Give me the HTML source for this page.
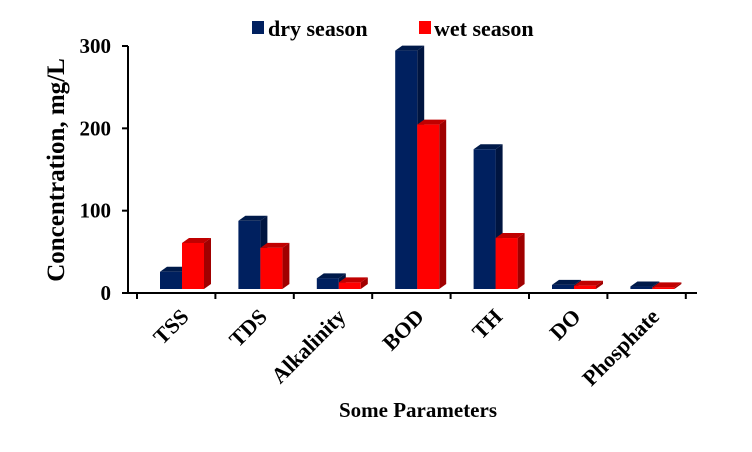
<!DOCTYPE html>
<html><head><meta charset="utf-8"><style>
body{margin:0;background:#fff}
svg{display:block;font-family:"Liberation Serif",serif;font-weight:bold}
</style></head><body>
<svg id="c" width="752" height="452">
<g>
<rect x="252" y="21" width="12" height="13" fill="#00205f"/>
<text x="268" y="36" font-size="22">dry season</text>
<rect x="419" y="21" width="12" height="13" fill="#ff0000"/>
<text x="434" y="36" font-size="22">wet season</text>
</g>
<text transform="translate(64,170) rotate(-90)" text-anchor="middle" font-size="25">Concentration, mg/L</text>
<text x="418" y="417" text-anchor="middle" font-size="21">Some Parameters</text>
<g id="bars"></g>
<g id="axes"></g>
</svg>
<script>
const categories=["TSS","TDS","Alkalinity","BOD","TH","DO","Phosphate"];
const drySeason=[21,83,13,290,170,5,3];
const wetSeason=[56,50,8,200,62,4,2];
const yTicks=[0,100,200,300];
const NS="http://www.w3.org/2000/svg";
const svg=document.getElementById('c');
const bars=document.getElementById('bars');
const axes=document.getElementById('axes');
const x0=137,step=78.4,base=289,k=0.822;
function yv(v){return base-v*k;}
function ya(v){return 293-v*0.8233;}
function mk(t,a,p){const e=document.createElementNS(NS,t);for(const n in a)e.setAttribute(n,a[n]);(p||svg).appendChild(e);return e;}
function bar3d(x,v,front,top,side,name){
  const g=mk('g',{},bars);
  
  
  const y=yv(v),w=22,dx=7,dy=5;
  mk('polygon',{points:`${x+w},${y} ${x+w+dx},${y-dy} ${x+w+dx},${base-dy} ${x+w},${base}`,fill:side},g);
  mk('polygon',{points:`${x},${y} ${x+dx},${y-dy} ${x+w+dx},${y-dy} ${x+w},${y}`,fill:top},g);
  mk('rect',{x:x,y:y,width:w,height:base-y,fill:front},g);
}
categories.forEach((c,i)=>{
  const bx=x0+i*step+23;
  bar3d(bx,drySeason[i],'#00205f','#001a4a','#001540','bar-dry-'+c.toLowerCase());
  bar3d(bx+22,wetSeason[i],'#ff0000','#c00000','#a00000','bar-wet-'+c.toLowerCase());
  const t=mk('text',{transform:`translate(${x0+i*step+53},${318}) rotate(-45)`,'text-anchor':'end','font-size':'22'},axes);
  t.textContent=c;
  
  
});
const xl=mk('line',{x1:128,y1:293,x2:697,y2:293,stroke:'#000','stroke-width':2},axes);


for(let i=0;i<=categories.length;i++){mk('line',{x1:x0+i*step,y1:293,x2:x0+i*step,y2:299,stroke:'#000','stroke-width':2},axes);}
const yl=mk('line',{x1:128,y1:ya(300),x2:128,y2:293,stroke:'#000','stroke-width':2},axes);


yTicks.forEach(v=>{
  mk('line',{x1:122,y1:ya(v),x2:128,y2:ya(v),stroke:'#000','stroke-width':2},axes);
  const t=mk('text',{x:111,y:ya(v)+7,'text-anchor':'end','font-size':21},axes);
  t.textContent=v;
  
  
});
</script>
</body></html>
